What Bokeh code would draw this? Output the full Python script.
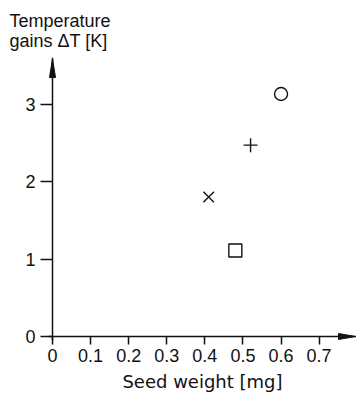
from bokeh.plotting import figure
from bokeh.models import Range1d, FixedTicker, ColumnDataSource
from bokeh.embed import file_html
from bokeh.resources import INLINE

# ---- data ----
seed_weight = [0.60, 0.52, 0.41, 0.48]        # mg
temp_gain = [3.13, 2.47, 1.80, 1.11]          # K
point_markers = ["circle", "cross", "x", "square"]
point_sizes = [13, 14, 15, 13]

x_ticks = [0, 0.1, 0.2, 0.3, 0.4, 0.5, 0.6, 0.7]
x_tick_labels = ["0", "0.1", "0.2", "0.3", "0.4", "0.5", "0.6", "0.7"]
y_ticks = [0, 1, 2, 3]
y_tick_labels = ["0", "1", "2", "3"]

x_title = "Seed weight [mg]"
y_title = "Temperature\ngains \u0394T [K]"

# ---- layout ----
W, H = 356, 408
MB_L, MB_R, MB_T, MB_B = 48, 0, 57, 68
PAD = 4            # frame reaches this many px beyond the zero lines
X_PX = 380.9       # pixels per mg
Y_PX = 77.47       # pixels per K
frame_w = W - MB_L - MB_R
frame_h = H - MB_T - MB_B
x_start = -PAD / X_PX
x_end = x_start + frame_w / X_PX
y_start = -PAD / Y_PX
y_end = y_start + frame_h / Y_PX

FONT = "Liberation Sans"
INK = "#111111"

p = figure(width=W, height=H, output_backend="svg", toolbar_location=None,
           x_range=Range1d(x_start, x_end), y_range=Range1d(y_start, y_end),
           min_border_left=MB_L, min_border_right=MB_R,
           min_border_top=MB_T, min_border_bottom=MB_B)
p.outline_line_color = None
p.grid.visible = False
p.background_fill_color = "white"
p.border_fill_color = "white"

for ax in (p.xaxis, p.yaxis):
    ax.axis_line_color = None
    ax.major_tick_line_width = 1.5
    ax.major_tick_line_color = INK
    ax.minor_tick_line_color = None
    ax.major_tick_in = PAD
    ax.major_label_text_font = FONT
    ax.major_label_text_font_size = "18px"
    ax.major_label_text_color = INK

p.xaxis.ticker = FixedTicker(ticks=x_ticks)
p.xaxis.major_label_overrides = {t: l for t, l in zip(x_ticks, x_tick_labels)}
p.xaxis.major_tick_out = 4
p.xaxis.major_label_standoff = 4
p.xaxis.axis_label = x_title
p.xaxis.axis_label_text_font = "DejaVu Sans"
p.xaxis.axis_label_text_font_size = "18px"
p.xaxis.axis_label_text_font_style = "normal"
p.xaxis.axis_label_text_color = INK
p.xaxis.axis_label_standoff = 6

p.yaxis.ticker = FixedTicker(ticks=y_ticks)
p.yaxis.major_label_overrides = {t: l for t, l in zip(y_ticks, y_tick_labels)}
p.yaxis.major_tick_out = 8
p.yaxis.major_label_standoff = 5

# y-axis title, written horizontally at the top left
p.title.text = y_title
p.title.align = "left"
p.title.offset = -39
p.title.standoff = 13
p.title.text_font = FONT
p.title.text_font_size = "18px"
p.title.text_font_style = "normal"
p.title.text_color = INK

# axis lines through the origin, with arrow heads
p.segment(x0=[x_start, 0], y0=[0, y_start], x1=[x_end, 0], y1=[0, y_end],
          line_color=INK, line_width=1.5)
tip_x = x_end - 1 / X_PX
ax_len = 17 / X_PX
ax_half = 3 / Y_PX
ay_len = 19 / Y_PX
ay_half = 3 / X_PX
tip_y = y_end - 1 / Y_PX
p.patch([tip_x, tip_x - ax_len, tip_x - ax_len], [0, ax_half, -ax_half],
        fill_color=INK, line_color=INK, line_width=1)
p.patch([0, ay_half, -ay_half], [tip_y, tip_y - ay_len, tip_y - ay_len],
        fill_color=INK, line_color=INK, line_width=1)

src = ColumnDataSource(dict(x=seed_weight, y=temp_gain,
                            marker=point_markers, size=point_sizes))
p.scatter(x="x", y="y", marker="marker", size="size", source=src,
          fill_color=None, line_color=INK, line_width=1.4)

open("out.html", "w").write(file_html(p, INLINE))
